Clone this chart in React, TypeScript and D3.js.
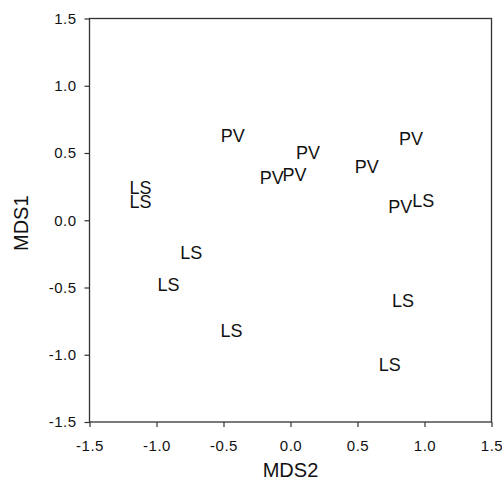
import React, { useRef, useEffect } from 'react';
import * as d3 from 'd3';

// site groups and their MDS coordinates
const labels = ['PV', 'PV', 'PV', 'PV', 'PV', 'PV', 'PV', 'LS', 'LS', 'LS', 'LS', 'LS', 'LS', 'LS', 'LS'];
const mds2 = [-0.43, 0.13, -0.14, 0.03, 0.57, 0.9, 0.82, 0.99, -1.12, -1.12, -0.74, -0.91, -0.44, 0.84, 0.74];
const mds1 = [0.63, 0.5, 0.32, 0.34, 0.4, 0.61, 0.1, 0.15, 0.24, 0.14, -0.24, -0.48, -0.82, -0.6, -1.07];

const xTicks = [-1.5, -1.0, -0.5, 0.0, 0.5, 1.0, 1.5];
const yTicks = [-1.5, -1.0, -0.5, 0.0, 0.5, 1.0, 1.5];

const W = 502;
const H = 487;
const margin = { left: 89.5, right: 10.5, top: 18.5, bottom: 65 };

// plain hyphen for negatives, like the original
const fmt = (d: number) => d.toFixed(1);

const App = () => {
    const svgRef = useRef<SVGSVGElement>(null);

    useEffect(() => {
        if (!svgRef.current) return;
        const svg = d3.select(svgRef.current);
        svg.selectAll('*').remove();

        const x = d3.scaleLinear().domain([-1.5, 1.5]).range([margin.left, W - margin.right]);
        const y = d3.scaleLinear().domain([-1.5, 1.5]).range([H - margin.bottom, margin.top]);
        const font = 'Arial, "Liberation Sans", sans-serif';

        // frame
        svg.append('rect')
            .attr('x', x(-1.5))
            .attr('y', y(1.5))
            .attr('width', x(1.5) - x(-1.5))
            .attr('height', y(-1.5) - y(1.5))
            .attr('fill', 'none')
            .attr('stroke', '#333')
            .attr('stroke-width', 1.3);

        // x axis
        const xAxis = svg.append('g')
            .attr('transform', `translate(0, ${y(-1.5)})`)
            .call(d3.axisBottom(x).tickValues(xTicks).tickSize(5).tickPadding(13).tickFormat(fmt as any));
        xAxis.select('.domain').remove();
        xAxis.selectAll('line').attr('stroke', '#333').attr('stroke-width', 1.2);
        xAxis.selectAll('text')
            .attr('font-family', font)
            .attr('font-size', 15)
            .attr('letter-spacing', 0.5)
            .attr('fill', '#111');

        // y axis
        const yAxis = svg.append('g')
            .attr('transform', `translate(${x(-1.5)}, 0)`)
            .call(d3.axisLeft(y).tickValues(yTicks).tickSize(5).tickPadding(8).tickFormat(fmt as any));
        yAxis.select('.domain').remove();
        yAxis.selectAll('line').attr('stroke', '#333').attr('stroke-width', 1.2);
        yAxis.selectAll('text')
            .attr('font-family', font)
            .attr('font-size', 15)
            .attr('letter-spacing', 0.5)
            .attr('fill', '#111');

        // axis titles
        svg.append('text')
            .attr('x', (x(-1.5) + x(1.5)) / 2)
            .attr('y', 477)
            .attr('text-anchor', 'middle')
            .attr('font-family', font)
            .attr('font-size', 20)
            .attr('fill', '#111')
            .text('MDS2');

        svg.append('text')
            .attr('transform', `translate(28, ${y(0) + 3}) rotate(-90)`)
            .attr('text-anchor', 'middle')
            .attr('font-family', font)
            .attr('font-size', 20)
            .attr('fill', '#111')
            .text('MDS1');

        // point labels
        svg.append('g')
            .selectAll('text')
            .data(labels)
            .enter()
            .append('text')
            .attr('x', (_, i) => x(mds2[i]))
            .attr('y', (_, i) => y(mds1[i]))
            .attr('dy', '0.36em')
            .attr('text-anchor', 'middle')
            .attr('font-family', font)
            .attr('font-size', 18)
            .attr('fill', '#111')
            .text(d => d);
    }, []);

    return (
        <div style={{ position: 'fixed', left: 0, top: 0, width: W, height: H, background: '#fff' }}>
            <svg ref={svgRef} width={W} height={H} style={{ display: 'block' }} />
        </div>
    );
};

export default App;
